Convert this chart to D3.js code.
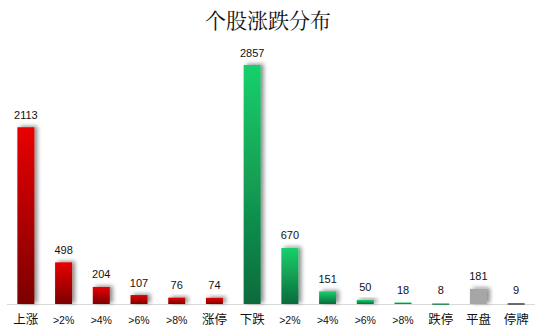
<!DOCTYPE html>
<html><head><meta charset="utf-8">
<script src="https://cdn.jsdelivr.net/npm/d3@7"></script>
<style>body{margin:0;background:#fff;}svg{display:block;}</style>
</head><body>
<svg id="c" width="540" height="332"></svg>
<script>
const title = "个股涨跌分布";
const categories = ["上涨", ">2%", ">4%", ">6%", ">8%", "涨停", "下跌", ">2%", ">4%", ">6%", ">8%", "跌停", "平盘", "停牌"];
const values = [2113, 498, 204, 107, 76, 74, 2857, 670, 151, 50, 18, 8, 181, 9];
const groups = ["up", "up", "up", "up", "up", "up", "down", "down", "down", "down", "down", "down", "flat", "halt"];

const W = 540, H = 332;
const svg = d3.select("#c");
const defs = svg.append("defs");

const grads = {
  up: ["#e80000", "#7c0000"],
  down: ["#18d06c", "#0d6a3c"]
};
Object.entries(grads).forEach(([k, [a, b]]) => {
  const g = defs.append("linearGradient").attr("id", "g-" + k)
    .attr("x1", 0).attr("y1", 0).attr("x2", 0).attr("y2", 1);
  g.append("stop").attr("offset", "0%").attr("stop-color", a);
  g.append("stop").attr("offset", "100%").attr("stop-color", b);
});
const f = defs.append("filter").attr("id", "sh")
  .attr("x", "-50%").attr("y", "-50%").attr("width", "200%").attr("height", "200%");
f.append("feDropShadow").attr("dx", 3).attr("dy", -1).attr("stdDeviation", 2.2)
  .attr("flood-color", "#000").attr("flood-opacity", 0.45);

const fills = { up: "url(#g-up)", down: "url(#g-down)", flat: "#a6a6a6", halt: "#3f3f3f" };

const x = d3.scaleBand().domain(d3.range(categories.length)).range([7, 535]).paddingInner(0.55).paddingOuter(0.275);
const y = d3.scaleLinear().domain([0, 2857]).range([304, 65]);

svg.append("text").attr("x", 268).attr("y", 28).attr("text-anchor", "middle")
  .attr("font-family", "'Noto Serif CJK SC', serif, 'Noto Sans CJK SC'")
  .attr("font-size", 21).attr("fill", "#111").text(title);

svg.append("line").attr("x1", 7).attr("x2", 535).attr("y1", 304.5).attr("y2", 304.5)
  .attr("stroke", "#d9d9d9").attr("stroke-width", 1);

const bars = svg.append("g").selectAll("rect").data(values).join("rect")
  .attr("x", (d, i) => x(i))
  .attr("width", x.bandwidth())
  .attr("y", d => y(d))
  .attr("height", d => Math.max(1.5, 304 - y(d)))
  .attr("fill", (d, i) => fills[groups[i]])
  .attr("filter", (d, i) => (groups[i] === "halt" || values[i] < 30) ? null : "url(#sh)");

svg.append("g").selectAll("text").data(values).join("text")
  .attr("x", (d, i) => x(i) + x.bandwidth() / 2)
  .attr("y", d => Math.min(y(d), 302.5) - 8.5)
  .attr("text-anchor", "middle")
  .attr("font-family", "'Liberation Sans', Arial, sans-serif")
  .attr("font-size", 11).attr("fill", "#111")
  .text(d => d);

svg.append("g").selectAll("text").data(categories).join("text")
  .attr("x", (d, i) => x(i) + x.bandwidth() / 2)
  .attr("y", 324)
  .attr("text-anchor", "middle")
  .attr("font-family", d => /[\u4e00-\u9fff]/.test(d) ? "'Noto Sans CJK SC', sans-serif" : "'Liberation Sans', Arial, sans-serif")
  .attr("font-size", d => /[\u4e00-\u9fff]/.test(d) ? 12.5 : 10.5)
  .attr("fill", "#111")
  .text(d => d);
</script>
</body></html>
